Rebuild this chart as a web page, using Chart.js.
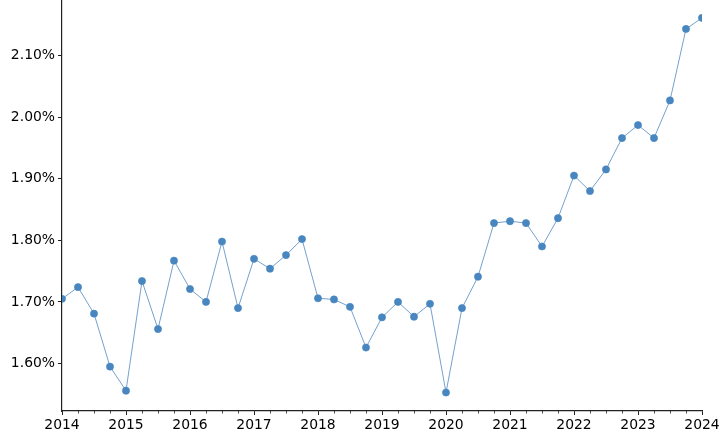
<!DOCTYPE html>
<html>
<head>
<meta charset="utf-8">
<script src="https://cdn.jsdelivr.net/npm/chart.js@4/dist/chart.umd.min.js"></script>
<style>
  html, body { margin: 0; padding: 0; background: #fff; }
  #wrap { width: 724px; height: 439px; }
</style>
</head>
<body>
<div id="wrap"><canvas id="myChart" width="724" height="439"></canvas></div>
<script>
// quarterly dates as decimal years
var dates = [2014.00, 2014.25, 2014.50, 2014.75,
             2015.00, 2015.25, 2015.50, 2015.75,
             2016.00, 2016.25, 2016.50, 2016.75,
             2017.00, 2017.25, 2017.50, 2017.75,
             2018.00, 2018.25, 2018.50, 2018.75,
             2019.00, 2019.25, 2019.50, 2019.75,
             2020.00, 2020.25, 2020.50, 2020.75,
             2021.00, 2021.25, 2021.50, 2021.75,
             2022.00, 2022.25, 2022.50, 2022.75,
             2023.00, 2023.25, 2023.50, 2023.75,
             2024.00];

// rate in percent
var rates = [1.705, 1.724, 1.681, 1.595,
             1.556, 1.734, 1.656, 1.767,
             1.721, 1.700, 1.798, 1.690,
             1.770, 1.754, 1.776, 1.802,
             1.706, 1.704, 1.692, 1.626,
             1.675, 1.700, 1.676, 1.697,
             1.553, 1.690, 1.741, 1.828,
             1.831, 1.828, 1.790, 1.836,
             1.905, 1.880, 1.915, 1.966,
             1.987, 1.966, 2.027, 2.143,
             2.161];

var yearTicks = [2014, 2015, 2016, 2017, 2018, 2019, 2020, 2021, 2022, 2023, 2024];
var yTicks = [1.6, 1.7, 1.8, 1.9, 2.0, 2.1];

var points = dates.map(function (d, i) { return {x: d, y: rates[i]}; });

var tickFont = {family: 'DejaVu Sans', size: 13.9};
var axisColor = '#222';

// small minor ticks on the quarters
var minorTicks = {
    id: 'minorTicks',
    afterDraw: function (chart) {
        var ctx = chart.ctx;
        var xs = chart.scales.x;
        var bottom = chart.chartArea.bottom;
        ctx.save();
        ctx.strokeStyle = axisColor;
        ctx.lineWidth = 0.8;
        dates.forEach(function (d) {
            if (yearTicks.indexOf(d) >= 0) return;
            var px = Math.round(xs.getPixelForValue(d)) + 0.5;
            ctx.beginPath();
            ctx.moveTo(px, bottom);
            ctx.lineTo(px, bottom + 2.5);
            ctx.stroke();
        });
        ctx.restore();
    }
};

var ctx = document.getElementById('myChart').getContext('2d');
var chart = new Chart(ctx, {
    type: 'line',
    data: {
        datasets: [{
            data: points,
            borderColor: 'rgba(70, 130, 190, 0.75)',
            borderWidth: 1,
            pointRadius: 3.6,
            pointBackgroundColor: 'rgb(72, 134, 192)',
            pointBorderColor: 'rgba(72, 134, 192, 0.6)',
            pointBorderWidth: 1,
            tension: 0
        }]
    },
    options: {
        responsive: false,
        animation: false,
        layout: {autoPadding: false, padding: {left: 0, right: 22, top: 0, bottom: 0}},
        plugins: {
            legend: {display: false},
            tooltip: {enabled: false}
        },
        scales: {
            x: {
                type: 'linear',
                min: 2014,
                max: 2024,
                afterBuildTicks: function (axis) {
                    axis.ticks = yearTicks.map(function (v) { return {value: v}; });
                },
                afterFit: function (axis) {
                    axis.height = 28;
                    axis.paddingLeft = 0;
                    axis.paddingRight = 0;
                },
                ticks: {
                    font: tickFont,
                    color: '#000',
                    padding: 2,
                    maxRotation: 0,
                    autoSkip: false,
                    callback: function (v) { return String(v); }
                },
                grid: {display: true, drawOnChartArea: false, drawTicks: true,
                       tickLength: 4, tickColor: axisColor, tickWidth: 1},
                border: {display: true, color: axisColor, width: 1.2}
            },
            y: {
                type: 'linear',
                min: 1.523,
                max: 2.19,
                afterBuildTicks: function (axis) {
                    axis.ticks = yTicks.map(function (v) { return {value: v}; });
                },
                afterFit: function (axis) {
                    axis.width = 62;
                    axis.paddingTop = 0;
                    axis.paddingBottom = 0;
                },
                ticks: {
                    font: tickFont,
                    color: '#000',
                    padding: 3,
                    callback: function (v) { return v.toFixed(2) + '%'; }
                },
                grid: {display: true, drawOnChartArea: false, drawTicks: true,
                       tickLength: 4, tickColor: axisColor, tickWidth: 1},
                border: {display: true, color: axisColor, width: 1.2}
            }
        }
    },
    plugins: [minorTicks]
});
</script>
</body>
</html>
